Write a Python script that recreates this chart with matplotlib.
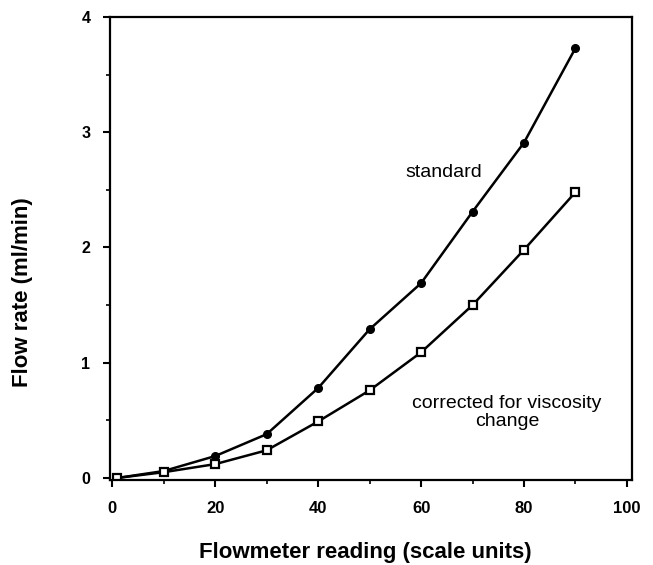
import matplotlib
matplotlib.use('Agg')
import matplotlib.pyplot as plt
from matplotlib.ticker import MultipleLocator

plt.rcParams['font.family'] = ['Liberation Sans', 'DejaVu Sans']

reading = [1, 10, 20, 30, 40, 50, 60, 70, 80, 90]
standard = [0.0, 0.06, 0.19, 0.38, 0.78, 1.29, 1.69, 2.31, 2.91, 3.73]
corrected = [0.0, 0.05, 0.12, 0.24, 0.49, 0.76, 1.09, 1.50, 1.98, 2.48]

fig = plt.figure(figsize=(6.53, 5.65), dpi=100)
ax = fig.add_axes([0.168, 0.150, 0.800, 0.820])

ax.plot(reading, standard, color='black', lw=1.8, marker='o', ms=5.5,
        mfc='black', mec='black')
ax.plot(reading, corrected, color='black', lw=1.8, marker='s', ms=5.5,
        mfc='white', mec='black', mew=1.6)

ax.set_xlim(-0.5, 101)
ax.set_ylim(-0.02, 4)
ax.xaxis.set_major_locator(MultipleLocator(20))
ax.xaxis.set_minor_locator(MultipleLocator(10))
ax.yaxis.set_major_locator(MultipleLocator(1))
ax.yaxis.set_minor_locator(MultipleLocator(0.5))
ax.tick_params(which='major', length=5, width=1.5, direction='out', pad=8)
ax.tick_params(axis='x', which='major', labelsize=12, pad=10)
ax.tick_params(axis='y', which='major', labelsize=11.5, pad=9)
ax.tick_params(which='minor', length=3, width=1.2, direction='out')
for lab in ax.get_xticklabels() + ax.get_yticklabels():
    lab.set_fontweight('bold')
for s in ax.spines.values():
    s.set_linewidth(1.6)

ax.text(64.5, 2.65, 'standard', ha='center', va='center', fontsize=14)
ax.text(76.7, 0.57, 'corrected for viscosity\nchange', ha='center', va='center',
        fontsize=14, linespacing=1.05)

ax.set_xlabel('Flowmeter reading (scale units)', fontsize=16, fontweight='bold')
ax.set_ylabel('Flow rate (ml/min)', fontsize=16, fontweight='bold')
ax.xaxis.label.set_va('center')
ax.xaxis.set_label_coords(0.49, -0.155)
ax.yaxis.label.set_va('center')
ax.yaxis.label.set_ha('center')
ax.yaxis.set_label_coords(-0.167, 0.406)

fig.savefig('out.png', dpi=100)
